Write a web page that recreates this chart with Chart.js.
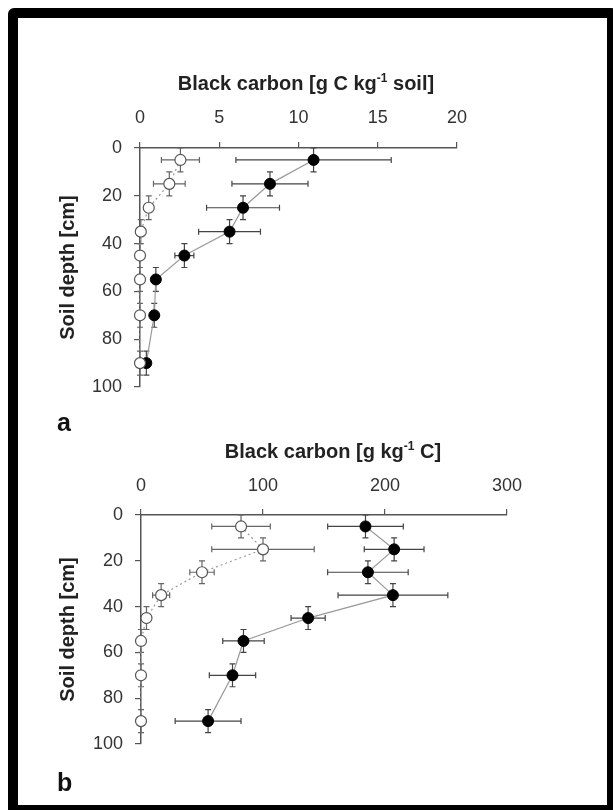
<!DOCTYPE html>
<html>
<head>
<meta charset="utf-8">
<script src="https://cdn.jsdelivr.net/npm/chart.js@4/dist/chart.umd.min.js"></script>
<style>
  body { margin: 0; width: 613px; height: 810px; overflow: hidden; background: #fff; font-family: "Liberation Sans", Arial, sans-serif; position: relative; }
  #frame { position: absolute; left: 8px; top: 8px; width: 589px; height: 787px; border: 10px solid #000; border-radius: 6px; background: #fff; }
  .panel { position: absolute; left: 18px; }
  .xtitle { position: absolute; font-weight: bold; font-size: 20px; color: #222; white-space: nowrap; transform: translate(-50%, -50%); }
  .xtitle sup { font-size: 12px; }
  .tag { position: absolute; font-weight: bold; font-size: 25px; color: #111; }
</style>
</head>
<body>
<div id="frame"></div>
<div class="panel" style="top:18px;width:589px;height:392px"><canvas id="graph1"></canvas></div>
<div class="panel" style="top:410px;width:589px;height:395px"><canvas id="graph2"></canvas></div>
<div class="xtitle" style="left:306px;top:83px">Black carbon [g C kg<sup>-1</sup> soil]</div>
<div class="xtitle" style="left:333px;top:451px">Black carbon [g kg<sup>-1</sup> C]</div>
<div class="tag" style="left:57px;top:408px">a</div>
<div class="tag" style="left:57px;top:768px">b</div>
<script>
// soil depth of each sample layer (cm) and its half thickness
var depth = [5, 15, 25, 35, 45, 55, 70, 90];
var depthErr = [5, 5, 5, 5, 5, 5, 5, 5];

// panel a: black carbon per kg soil
var soilFilled = [10.95, 8.2, 6.5, 5.65, 2.8, 1.0, 0.9, 0.4];
var soilFilledErr = [4.9, 2.4, 2.3, 1.95, 0.6, 0.2, 0.2, 0.2];
var soilOpen = [2.55, 1.85, 0.55, 0.05, 0, 0, 0, 0];
var soilOpenErr = [1.2, 1.0, 0.2, 0, 0, 0, 0, 0];

// panel b: black carbon per kg organic C
var carbonFilled = [184, 207.5, 186, 206.5, 137, 84, 75, 55];
var carbonFilledErr = [31, 24.5, 33, 45, 14, 17, 19, 27];
var carbonOpen = [82, 100, 50, 16.5, 4.5, 0, 0, 0];
var carbonOpenErr = [24, 42, 10, 7, 2, 0, 0, 0];

var xTicksA = [0, 5, 10, 15, 20];
var xTicksB = [0, 100, 200, 300];
var depthTicks = [0, 20, 40, 60, 80, 100];

var FONT = '"Liberation Sans", Arial, sans-serif';

function pts(xs) {
  return xs.map(function (v, i) { return {x: v, y: depth[i]}; });
}

// draws x and y error bars with caps, under the markers
var errorBars = {
  id: 'errorBars',
  beforeDatasetsDraw: function (chart) {
    var ctx = chart.ctx;
    var xs = chart.scales.x, ys = chart.scales.y;
    ctx.save();
    ctx.lineWidth = 1.2;
    chart.data.datasets.forEach(function (ds) {
      ctx.strokeStyle = ds.barColor;
      ds.data.forEach(function (p, i) {
        var px = xs.getPixelForValue(p.x), py = ys.getPixelForValue(p.y);
        var xe = ds.xErr[i], ye = depthErr[i];
        ctx.beginPath();
        if (xe > 0) {
          var x1 = xs.getPixelForValue(p.x - xe), x2 = xs.getPixelForValue(p.x + xe);
          ctx.moveTo(x1, py); ctx.lineTo(x2, py);
          ctx.moveTo(x1, py - 3); ctx.lineTo(x1, py + 3);
          ctx.moveTo(x2, py - 3); ctx.lineTo(x2, py + 3);
        }
        var y1 = ys.getPixelForValue(p.y - ye), y2 = ys.getPixelForValue(p.y + ye);
        ctx.moveTo(px, y1); ctx.lineTo(px, y2);
        ctx.moveTo(px - 3, y1); ctx.lineTo(px + 3, y1);
        ctx.moveTo(px - 3, y2); ctx.lineTo(px + 3, y2);
        ctx.stroke();
      });
    });
    ctx.restore();
  }
};

function makeChart(id, filled, filledErr, open, openErr, xTicks, yWidth, xHeight, pad, xTickPad) {
  var context = document.getElementById(id).getContext('2d');
  return new Chart(context, {
    type: 'scatter',
    data: {
      datasets: [{
        data: pts(open),
        xErr: openErr,
        barColor: '#666',
        showLine: true,
        borderColor: '#999',
        borderWidth: 1.2,
        borderDash: [2, 3],
        pointRadius: 5.5,
        pointBackgroundColor: '#fff',
        pointBorderColor: '#555',
        pointBorderWidth: 1.2,
        clip: false
      }, {
        data: pts(filled),
        xErr: filledErr,
        barColor: '#444',
        showLine: true,
        borderColor: '#999',
        borderWidth: 1.2,
        pointRadius: 5.5,
        pointBackgroundColor: '#000',
        pointBorderColor: '#000',
        pointBorderWidth: 1,
        clip: false
      }]
    },
    options: {
      responsive: true,
      maintainAspectRatio: false,
      animation: false,
      layout: {padding: pad},
      plugins: {legend: {display: false}, tooltip: {enabled: false}},
      scales: {
        x: {
          type: 'linear',
          position: 'top',
          min: xTicks[0],
          max: xTicks[xTicks.length - 1],
          afterBuildTicks: function (s) { s.ticks = xTicks.map(function (v) { return {value: v}; }); },
          afterFit: function (s) { s.height = xHeight; },
          grid: {drawOnChartArea: false, tickLength: 6, color: '#555', lineWidth: 1.2},
          border: {color: '#555', width: 1.5},
          ticks: {padding: xTickPad, color: '#333', font: {family: FONT, size: 18}, maxRotation: 0}
        },
        y: {
          type: 'linear',
          reverse: true,
          min: 0,
          max: 100,
          afterBuildTicks: function (s) { s.ticks = depthTicks.map(function (v) { return {value: v}; }); },
          afterFit: function (s) { s.width = yWidth; },
          grid: {drawOnChartArea: false, tickLength: 6, color: '#555', lineWidth: 1.2},
          border: {color: '#555', width: 1.5},
          ticks: {padding: 12, color: '#333', font: {family: FONT, size: 18}},
          title: {display: true, text: 'Soil depth [cm]', color: '#222', padding: {top: 38}, font: {family: FONT, size: 20, weight: 'bold'}}
        }
      }
    },
    plugins: [errorBars]
  });
}

makeChart('graph1', soilFilled, soilFilledErr, soilOpen, soilOpenErr, xTicksA, 122, 130, {left: 0, top: 0, right: 150, bottom: 23}, 13);
makeChart('graph2', carbonFilled, carbonFilledErr, carbonOpen, carbonOpenErr, xTicksB, 123, 105, {left: 0, top: 0, right: 100, bottom: 61}, 12);
</script>
</body>
</html>
